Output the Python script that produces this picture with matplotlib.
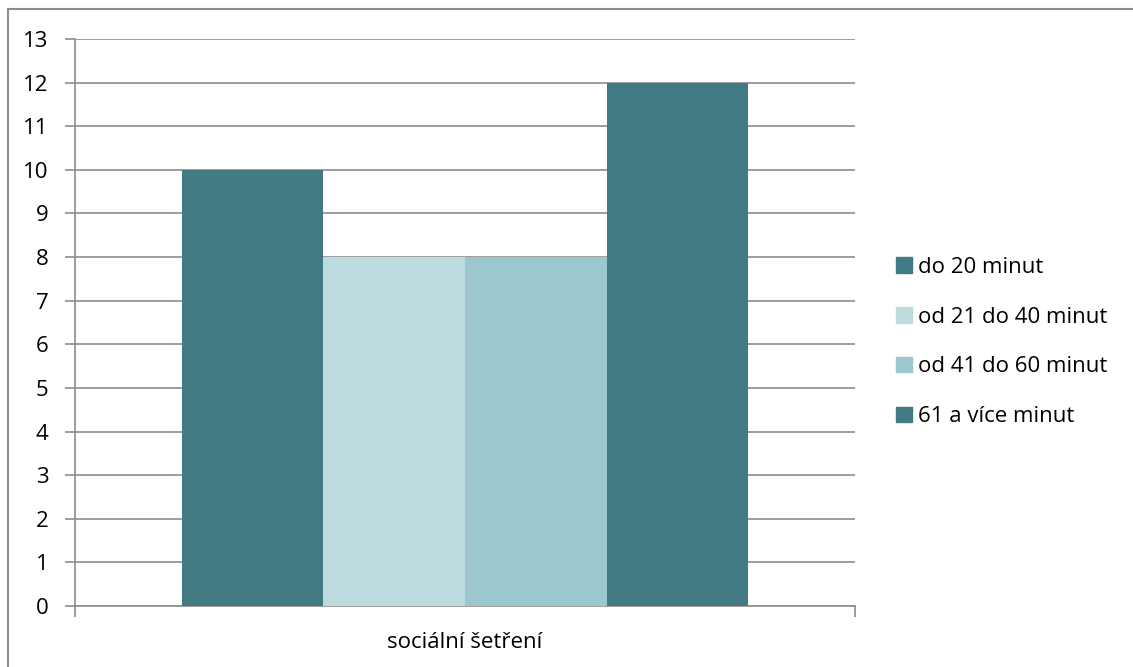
import matplotlib.pyplot as plt
from matplotlib.patches import Rectangle, Patch

plt.rcParams['font.family'] = ['Open Sans', 'DejaVu Sans']

# data
category = 'sociální šetření'
series = ['do 20 minut', 'od 21 do 40 minut', 'od 41 do 60 minut', '61 a více minut']
values = [10, 8, 8, 12]
colors = ['#417A82', '#BDDBDF', '#9DC7CF', '#417A82']

W, H = 1133, 667
fig = plt.figure(figsize=(W / 100, H / 100), dpi=100)

# outer chart border (right and bottom fall outside the image)
fig.patches.append(Rectangle((8 / W, -0.05), 1.2, 1 - 9 / H + 0.05,
                             transform=fig.transFigure, fill=False,
                             edgecolor='#8C8C8C', linewidth=1.5))

ax = fig.add_axes([75 / W, 1 - 606 / H, 780 / W, 567 / H])

group = 0.726
bw = group / len(values)
for i, (name, v, c) in enumerate(zip(series, values, colors)):
    x = -group / 2 + bw * (i + 0.5)
    ax.bar(x, v, width=bw, color=c, label=name, zorder=3)

ax.set_xlim(-0.5, 0.5)
ax.set_ylim(0, 13)
ax.set_yticks(range(0, 14))
ax.yaxis.grid(True, color='#8C8C8C', linewidth=1.2, zorder=0)
for s in ['top', 'right']:
    ax.spines[s].set_visible(False)
for s in ['left', 'bottom']:
    ax.spines[s].set_color('#8C8C8C')
    ax.spines[s].set_linewidth(1.2)
ax.tick_params(axis='y', length=7, width=1.2, color='#8C8C8C',
               labelsize=16, pad=12)
ax.set_xticks([])

# category boundary ticks on the x axis
ax.set_xticks([-0.5, 0.5], minor=True)
ax.tick_params(axis='x', which='minor', length=8, width=1.2, color='#8C8C8C')
ax.text(0.5, -37 / 567, category, transform=ax.transAxes,
        ha='center', va='center', fontsize=16)

handles = [Patch(color=c, label=n) for n, c in zip(series, colors)]
fig.legend(handles=handles, loc='center left', bbox_to_anchor=(876 / W, 1 - 342 / H),
           frameon=False, fontsize=16, handlelength=0.7, handleheight=0.7,
           handletextpad=0.3, labelspacing=1.3)

fig.savefig('out.png', dpi=100)
